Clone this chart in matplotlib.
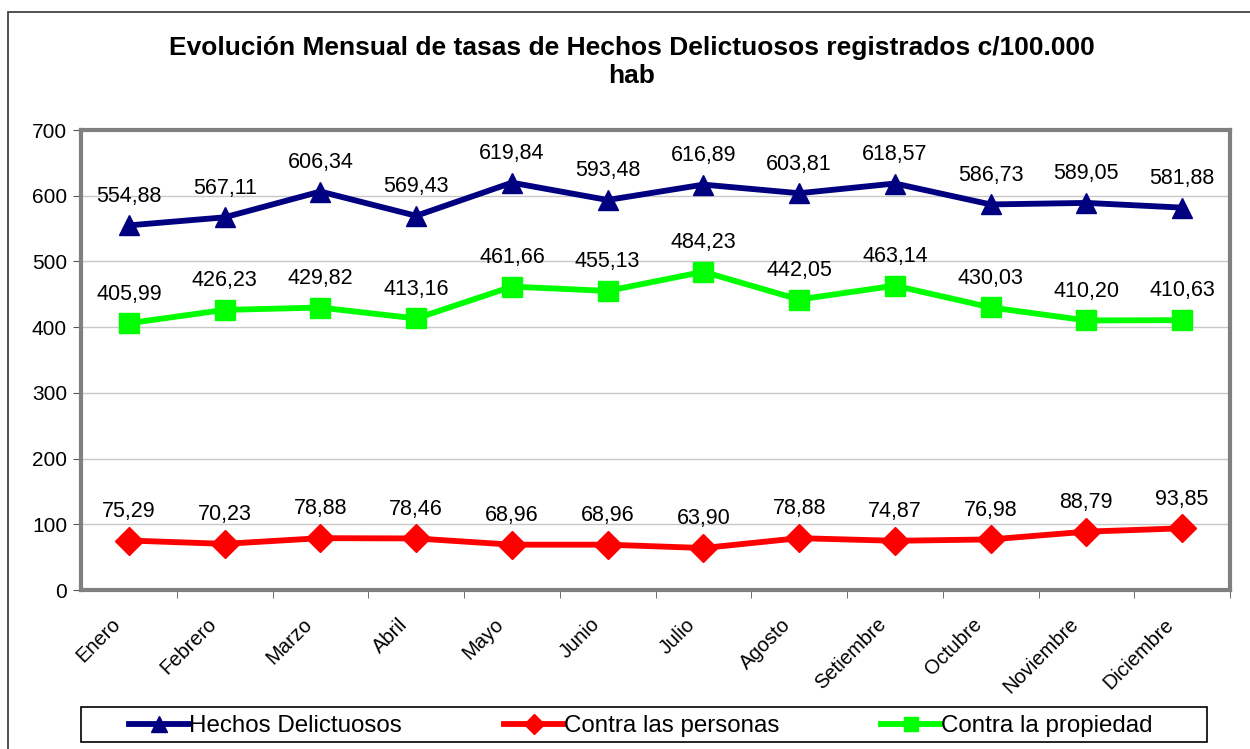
import matplotlib
matplotlib.use("Agg")
import matplotlib.pyplot as plt
import matplotlib.transforms as mtrans
from matplotlib.patches import Rectangle

plt.rcParams['font.family'] = ['Liberation Sans', 'DejaVu Sans']

meses = ['Enero', 'Febrero', 'Marzo', 'Abril', 'Mayo', 'Junio', 'Julio',
         'Agosto', 'Setiembre', 'Octubre', 'Noviembre', 'Diciembre']
hechos = [554.88, 567.11, 606.34, 569.43, 619.84, 593.48, 616.89,
          603.81, 618.57, 586.73, 589.05, 581.88]
personas = [75.29, 70.23, 78.88, 78.46, 68.96, 68.96, 63.90,
            78.88, 74.87, 76.98, 88.79, 93.85]
propiedad = [405.99, 426.23, 429.82, 413.16, 461.66, 455.13, 484.23,
             442.05, 463.14, 430.03, 410.20, 410.63]

W, H = 1250, 749
fig = plt.figure(figsize=(12.5, 7.49), dpi=100)
ax = fig.add_axes([81 / W, 1 - 590 / H, (1230 - 81) / W, (590 - 130) / H])

# outer chart border
fig.patches.append(Rectangle((8 / W, -0.1), 1.2, 1 - 12 / H + 0.1, transform=fig.transFigure,
                             fill=False, edgecolor='#333333', linewidth=1.2))

x = list(range(len(meses)))
series = [
    (hechos, '#000080', '^', 15, 'Hechos Delictuosos'),
    (personas, '#FF0000', 'D', 14, 'Contra las personas'),
    (propiedad, '#00FF00', 's', 14, 'Contra la propiedad'),
]
for vals, col, mk, ms, lab in series:
    ax.plot(x, vals, color=col, lw=4.2, marker=mk, markersize=ms,
            markerfacecolor=col, markeredgecolor=col, label=lab, zorder=3)
    for xi, v in zip(x, vals):
        ax.annotate(f'{v:.2f}'.replace('.', ','), (xi, v), xytext=(0, 21),
                    textcoords='offset points', ha='center', va='center',
                    fontsize=15.5)

ax.set_xlim(-0.5, 11.5)
ax.set_ylim(0, 700)
ax.set_yticks(range(0, 701, 100))
ax.yaxis.grid(True, color='#C8C8C8', lw=1)
ax.set_axisbelow(True)
ax.set_xticks(x)
ax.set_xticklabels(meses, rotation=45, ha='right', rotation_mode='anchor', fontsize=14.5)
ax.tick_params(axis='x', length=0, pad=12)
shift = mtrans.ScaledTranslation(-18 / 100, -8 / 100, fig.dpi_scale_trans)
for t in ax.get_xticklabels():
    t.set_transform(t.get_transform() + shift)
ax.set_xticks([i + 0.5 for i in x], minor=True)
ax.tick_params(axis='x', which='minor', length=6, direction='out', color='#555555')
ax.tick_params(axis='y', length=6, direction='out', labelsize=15, color='#555555', pad=4)
for s in ax.spines.values():
    s.set_color('#808080')
    s.set_linewidth(3)

fig.text(632 / W, 1 - 62 / H,
         'Evolución Mensual de tasas de Hechos Delictuosos registrados c/100.000\nhab',
         ha='center', va='center', fontsize=19, fontweight='bold', linespacing=1.25)

# legend box drawn separately, entries spread evenly
fig.patches.append(Rectangle((81 / W, 1 - 742 / H), 1126 / W, 35 / H, transform=fig.transFigure,
                             fill=False, edgecolor='black', linewidth=1.2))
leg = fig.legend(loc='center', bbox_to_anchor=(641 / W, 1 - 726 / H), ncol=3,
                 fontsize=17.4, frameon=False, handlelength=2.5, handletextpad=0.0,
                 columnspacing=4.2, borderpad=0, borderaxespad=0, markerscale=0.75)

fig.savefig('out.png', dpi=100)
